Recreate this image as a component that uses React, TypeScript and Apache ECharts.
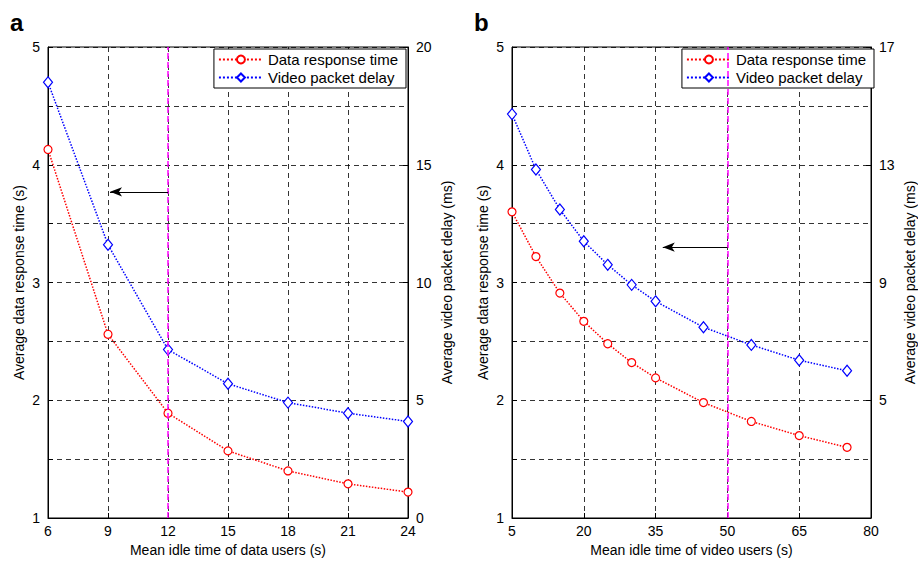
import React, { useEffect, useRef } from "react";
import * as echarts from "echarts";

const xA = [6, 9, 12, 15, 18, 21, 24];
const redA = [4.13, 2.56, 1.89, 1.57, 1.4, 1.29, 1.22];
const blueA = [18.5, 11.6, 7.15, 5.7, 4.9, 4.45, 4.1];
const xB = [5, 10, 15, 20, 25, 30, 35, 45, 55, 65, 75];
const redB = [3.6, 3.22, 2.91, 2.67, 2.48, 2.32, 2.19, 1.98, 1.82, 1.7, 1.6];
const blueB = [14.72, 12.84, 11.48, 10.4, 9.6, 8.92, 8.36, 7.48, 6.88, 6.36, 6.0];
const arrowA = [[12, 3.77], [9.1, 3.77]];
const arrowB = [[50, 3.3], [36.5, 3.3]];
const vlineA = 12;
const vlineB = 50;

const font = "Arial, Liberation Sans, sans-serif";

export default function App() {
  const ref = useRef<HTMLDivElement>(null);
  useEffect(() => {
    document.body.style.margin = "0";
    document.body.style.overflow = "hidden";
    const chart = echarts.init(ref.current!, undefined, { renderer: "svg" });
    const dashed = { show: true, lineStyle: { color: "#000", type: [5, 4], width: 0.8 } };
    const axisCommon = {
      axisLine: { show: true, onZero: false, lineStyle: { color: "#000" } },
      axisTick: { show: true, inside: true, lineStyle: { color: "#000" } },
      axisLabel: { color: "#000", fontSize: 14, fontFamily: font },
      nameTextStyle: { color: "#000", fontSize: 14, fontFamily: font },
    };
    const xAxis = (gi: number, min: number, max: number, interval: number, name: string) => ({
      ...axisCommon, type: "value", gridIndex: gi, min, max, interval, name,
      nameLocation: "middle", nameGap: 22, splitLine: dashed,
      axisLabel: { ...axisCommon.axisLabel, margin: 6 },
    });
    const yLeft = (gi: number, name: string) => ({
      ...axisCommon, type: "value", gridIndex: gi, min: 1, max: 5, interval: 0.5, name,
      nameLocation: "middle", nameGap: 22, splitLine: dashed,
      axisLabel: { ...axisCommon.axisLabel, margin: 8, formatter: (v: number) => (Number.isInteger(v) ? String(v) : "") },
    });
    const yRight = (gi: number, min: number, max: number, interval: number, name: string, showMin: boolean, gap: number) => ({
      ...axisCommon, type: "value", gridIndex: gi, position: "right", min, max, interval, name,
      nameLocation: "middle", nameGap: gap, splitLine: { show: false },
      axisLabel: { ...axisCommon.axisLabel, margin: 8, showMinLabel: showMin },
    });
    const red = (xs: number[], ys: number[], xi: number, yi: number, arrow: number[][], vx: number) => ({
      name: "Data response time", type: "line", xAxisIndex: xi, yAxisIndex: yi,
      data: xs.map((x, i) => [x, ys[i]]), symbol: "circle", symbolSize: 8,
      itemStyle: { color: "#fff", borderColor: "#ff0000", borderWidth: 1.2 },
      lineStyle: { color: "#ff0000", type: "dotted", width: 1.5 },
      markLine: {
        silent: true, symbol: ["none", "none"], label: { show: false },
        data: [
          { xAxis: vx, lineStyle: { color: "#ff00ff", type: [6, 3], width: 1.5 } },
          [
            { coord: arrow[0], symbol: "none", lineStyle: { color: "#000", type: "solid", width: 1 } },
            { coord: arrow[1], symbol: "arrow", symbolSize: [7, 12] },
          ],
        ],
      },
    });
    const blue = (xs: number[], ys: number[], xi: number, yi: number) => ({
      name: "Video packet delay", type: "line", xAxisIndex: xi, yAxisIndex: yi,
      data: xs.map((x, i) => [x, ys[i]]), symbol: "diamond", symbolSize: [9, 11],
      itemStyle: { color: "#fff", borderColor: "#0000ff", borderWidth: 1.2 },
      lineStyle: { color: "#0000ff", type: "dotted", width: 1.5 },
    });
    const legend = (right: number) => ({
      orient: "vertical", top: 49, right, itemGap: 3, itemWidth: 44, itemHeight: 10,
      backgroundColor: "#fff", borderColor: "#000", borderWidth: 1, padding: [3, 8, 3, 4],
      textStyle: { color: "#000", fontSize: 15, fontFamily: font },
      data: ["Data response time", "Video packet delay"],
    });
    chart.setOption({
      animation: false,
      backgroundColor: "#fff",
      grid: [
        { left: 48, top: 47, width: 360, height: 471, show: true, borderColor: "#000", borderWidth: 1 },
        { left: 512, top: 47, width: 364, height: 471, show: true, borderColor: "#000", borderWidth: 1 },
      ],
      legend: [legend(918 - 408 + 2), legend(918 - 876 + 2)],
      xAxis: [xAxis(0, 6, 24, 3, "Mean idle time of data users (s)"), xAxis(1, 5, 80, 15, "Mean idle time of video users (s)")],
      yAxis: [
        yLeft(0, "Average data response time (s)"),
        yRight(0, 0, 20, 5, "Average video packet delay (ms)", true, 32),
        yLeft(1, "Average data response time (s)"),
        yRight(1, 1, 17, 4, "Average video packet delay (ms)", false, 32),
      ],
      series: [
        red(xA, redA, 0, 0, arrowA, vlineA),
        blue(xA, blueA, 0, 1),
        red(xB, redB, 1, 2, arrowB, vlineB),
        blue(xB, blueB, 1, 3),
      ],
      graphic: [
        { type: "text", left: 10, top: 10, style: { text: "a", font: "bold 24px Arial, Liberation Sans, sans-serif", fill: "#000" } },
        { type: "text", left: 474, top: 10, style: { text: "b", font: "bold 24px Arial, Liberation Sans, sans-serif", fill: "#000" } },
      ],
    });
    return () => chart.dispose();
  }, []);
  return <div ref={ref} style={{ width: 918, height: 566 }} />;
}
